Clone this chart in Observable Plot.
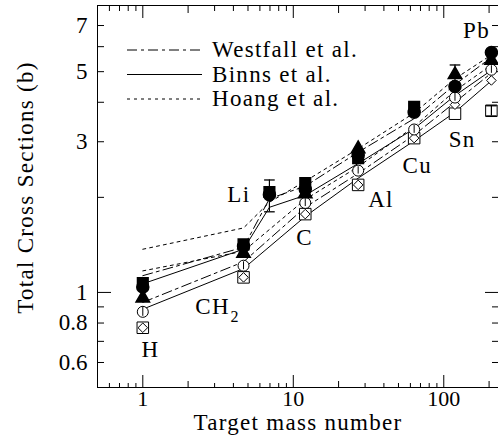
<!DOCTYPE html>
<html><head><meta charset="utf-8">
<script src="https://cdn.jsdelivr.net/npm/d3@7"></script>
<script src="https://cdn.jsdelivr.net/npm/@observablehq/plot@0.6"></script>
<style>
body{margin:0;background:#fff}
#chart{position:relative;width:498px;height:446px}
#chart svg text{font-family:"Liberation Serif","Times New Roman",Times,serif !important}
</style></head><body><div id="chart"></div>
<script>
// ---- data ----
const targets = ["H","CH2","Li","C","Al","Cu","Sn","Pb"];
const massNumber = [1, 4.67, 6.94, 12.01, 26.98, 63.55, 118.7, 207.2];

// measured cross sections (b)
const filledCircle   = [1.04, 1.40, 2.04, 2.12, 2.72, 3.72, 4.49, 5.75];
const filledSquare   = [1.07, 1.42, 2.08, 2.22, 2.66, 3.87, null, null];
const filledTriangle = [0.96, 1.33, null, 2.05, 2.85, null, 4.89, 5.43];
const openCircle     = [0.868, 1.215, null, 1.92, 2.43, 3.28, 4.14, 5.07];
const openSquare     = [0.773, 1.116, null, 1.77, 2.19, 3.08, 3.68, 3.76];
const openDiamond    = [0.773, 1.116, null, 1.77, 2.19, 3.08, 3.93, 4.69];

// error bars
const errTarget = ["Li", "Sn", "Pb", "H", "CH2", "C", "Al", "Cu", "Sn", "Pb"];
const errLow    = [1.80, 4.62, 3.62, 0.84, 1.18, 1.87, 2.37, 3.19, 4.03, 4.94];
const errHigh   = [2.27, 5.25, 3.90, 0.90, 1.25, 1.98, 2.50, 3.38, 4.26, 5.22];
const errCapped = [true, true, true, false, false, false, false, false, false, false];

// calculations
const calcNames = ["Westfall et al.", "Binns et al.", "Hoang et al."];
const westfallUpper = [1.13, 1.39, 1.98, 2.17, 2.78, 3.55, 4.55, 5.55];
const westfallLower = [0.93, 1.25, null, 1.86, 2.38, 3.15, 4.00, 4.95];
const binnsUpper    = [1.065, 1.37, 1.86, 2.03, 2.56, 3.30, 4.20, 5.05];
const binnsLower    = [0.885, 1.19, null, 1.74, 2.30, 3.02, 3.72, 4.68];
const hoangUpper    = [1.37, 1.60, 1.93, 2.25, 2.85, 3.70, 4.75, 5.65];
const hoangLower    = [1.17, 1.35, null, 1.97, 2.50, 3.35, 4.35, 5.25];

// axis ticks and titles
const xTickLabels = [1, 10, 100];
const xMajor = [1, 10, 100];
const xMid = [2, 20, 200];
const xMinor = [0.6,0.7,0.8,0.9,3,4,5,6,7,8,9,30,40,50,60,70,80,90];
const yTickLabels = [0.6, 0.8, 1, 3, 5, 7];
const yMajor = [1];
const yMinor = [0.6,0.7,0.8,0.9,2,3,4,5,6,7];
const xTitle = "Target mass number";
const yTitle = "Total Cross Sections (b)";

// ---- styles ----
const FONT = "Liberation Serif";
const FS = 23;
const LS = 1.3;
const dashes = {"Westfall et al.": "10,4,3,4", "Binns et al.": null, "Hoang et al.": "3,4"};
const labelOffset = {
  H: [7.7, 63], Li: [-30.6, 0], C: [-0.8, 48],
  Al: [22.8, 44.5], Cu: [3.1, 53.4], Sn: [7.2, 53.3], Pb: [-14.9, -22]
};

// ---- tables ----
const pts = (vals) => targets.map((t, i) => ({t, mass: massNumber[i], v: vals[i]})).filter(d => d.v != null);
const lineRows = [];
[["Westfall et al.", "u", westfallUpper], ["Westfall et al.", "l", westfallLower],
 ["Binns et al.", "u", binnsUpper], ["Binns et al.", "l", binnsLower],
 ["Hoang et al.", "u", hoangUpper], ["Hoang et al.", "l", hoangLower]].forEach(([calc, b, vals]) => {
  pts(vals).forEach(d => lineRows.push({...d, calc, key: calc + b}));
});
const errRows = errTarget.map((t, i) => ({t, mass: massNumber[targets.indexOf(t)], lo: errLow[i], hi: errHigh[i], cap: errCapped[i]}));
const capRows = errRows.filter(d => d.cap).flatMap(d => [{mass: d.mass, v: d.lo}, {mass: d.mass, v: d.hi}]);
const labelRows = targets.map((t, i) => ({t, mass: massNumber[i], v: filledCircle[i]}));

const hline = {draw(ctx, size) { const w = Math.sqrt(size); ctx.moveTo(-w, 0); ctx.lineTo(w, 0); }};

function tickAxis(k, anchor, values, size) {
  const o = {anchor, tickSize: -size, tickFormat: () => "", label: null, stroke: "black"};
  return k === "x" ? Plot.axisX(values, o) : Plot.axisY(values, o);
}

const lineMarks = calcNames.map(c => Plot.line(lineRows.filter(d => d.calc === c), {
  x: "mass", y: "v", z: "key", stroke: "black", strokeWidth: 1,
  strokeDasharray: dashes[c]
}));

const textOpts = {x: "mass", y: "v", fontSize: FS, fontFamily: FONT, fill: "black"};
const labelMarks = labelRows.filter(d => d.t !== "CH2").map(d =>
  Plot.text([d], {...textOpts, text: "t", dx: labelOffset[d.t][0], dy: labelOffset[d.t][1]}));
const ch2 = labelRows.filter(d => d.t === "CH2");
labelMarks.push(Plot.text(ch2, {...textOpts, text: () => "CH", dx: -31, dy: 60}));
labelMarks.push(Plot.text(ch2, {...textOpts, text: () => "2", fontSize: 16, dx: -9, dy: 71}));

const plot = Plot.plot({
  width: 498, height: 446,
  marginLeft: 97, marginRight: 0, marginTop: 5, marginBottom: 59,
  style: {fontFamily: FONT, background: "white", color: "black"},
  x: {type: "log", domain: [0.5, 231]},
  y: {type: "log", domain: [0.5, 8.1]},
  marks: [
    Plot.frame({stroke: "black", strokeWidth: 1}),
    Plot.axisX(xTickLabels, {anchor: "bottom", tickSize: 0, tickPadding: 3, label: null, fontSize: 22, fontFamily: FONT, tickFormat: d => String(d)}),
    Plot.axisY(yTickLabels, {anchor: "left", tickSize: 0, tickPadding: 10, label: null, fontSize: FS, fontFamily: FONT, tickFormat: d => String(d)}),
    tickAxis("x", "bottom", xMajor, 12), tickAxis("x", "bottom", xMid, 6), tickAxis("x", "bottom", xMinor, 4),
    tickAxis("x", "top", xMajor, 12), tickAxis("x", "top", xMid, 7), tickAxis("x", "top", xMinor, 5),
    tickAxis("y", "left", yMajor, 14), tickAxis("y", "left", yMinor, 7),
    tickAxis("y", "right", yMajor, 14), tickAxis("y", "right", yMinor, 7),
    ...lineMarks,
    Plot.dot(pts(openSquare), {x: "mass", y: "v", symbol: "square", r: 6.5, fill: "white", stroke: "black", strokeWidth: 1}),
    Plot.dot(pts(openDiamond), {x: "mass", y: "v", symbol: "diamond2", r: 4.3, fill: "white", stroke: "black", strokeWidth: 1}),
    Plot.dot(pts(openCircle), {x: "mass", y: "v", symbol: "circle", r: 5.5, fill: "white", stroke: "black", strokeWidth: 1}),
    Plot.ruleX(errRows.filter(d => !d.cap), {x: "mass", y1: "lo", y2: "hi", stroke: "black", strokeWidth: 1}),
    Plot.ruleX(errRows.filter(d => d.cap), {x: "mass", y1: "lo", y2: "hi", stroke: "black", strokeWidth: 1.2}),
    Plot.dot(capRows, {x: "mass", y: "v", symbol: hline, r: 3, stroke: "black", strokeWidth: 1.3, fill: "none"}),
    Plot.dot(pts(filledCircle), {x: "mass", y: "v", symbol: "circle", r: 6, fill: "black", stroke: "black"}),
    Plot.dot(pts(filledSquare), {x: "mass", y: "v", symbol: "square", r: 6, fill: "black", stroke: "black"}),
    Plot.dot(pts(filledTriangle), {x: "mass", y: "v", symbol: "triangle", r: 5, fill: "black", stroke: "black"}),
    ...labelMarks,
    Plot.text([xTitle], {frameAnchor: "bottom", text: d => d, dy: 42, fontSize: FS, fontFamily: FONT, fill: "black", letterSpacing: LS}),
    Plot.text([yTitle], {frameAnchor: "left", textAnchor: "middle", text: d => d, rotate: -90, dx: -72, dy: -9, fontSize: FS, fontFamily: FONT, fill: "black"})
  ]
});

document.getElementById("chart").appendChild(plot);

const svg = d3.select(plot);
// letter spacing for word labels
svg.selectAll("text").filter(function() { return /[A-Za-z]/.test(this.textContent); })
  .attr("letter-spacing", LS);

// legend (inside the frame, top-left)
const legend = svg.append("g").attr("class", "legend").attr("text-anchor", "start");
calcNames.forEach((name, i) => {
  const yb = 57 + i * 24.5;
  legend.append("line")
    .attr("x1", 127).attr("x2", 202).attr("y1", yb - 7).attr("y2", yb - 7)
    .attr("stroke", "black").attr("stroke-width", 1)
    .attr("stroke-dasharray", dashes[name]);
  legend.append("text")
    .attr("x", 212).attr("y", yb).attr("text-anchor", "start")
    .attr("font-family", FONT).attr("font-size", FS).attr("letter-spacing", LS)
    .attr("fill", "black").text(name);
});
</script>
</body></html>
